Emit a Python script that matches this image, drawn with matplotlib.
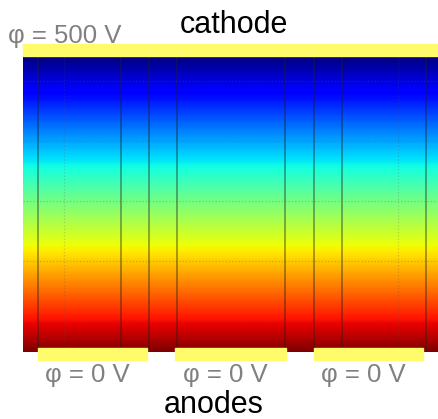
import numpy as np
import matplotlib.pyplot as plt
from matplotlib.patches import Rectangle

plt.rcParams['font.family'] = ['Liberation Sans', 'DejaVu Sans']

# geometry in mm
width, height = 50.0, 35.66
phi_cathode, phi_anode = 500, 0
anodes = [(1.8, 14.9), (18.3, 31.7), (35.1, 48.2)]
field_lines = [1.77, 11.77, 15.14, 18.55, 31.53, 35.02, 38.43, 48.52]
grid_x = [4.94, 45.18]
grid_y = [3.7, 11.0, 18.2, 25.4, 32.6]

fig = plt.figure(figsize=(4.38, 4.19), dpi=100)
ax = fig.add_axes([23 / 438, 67 / 419, 415 / 438, 296 / 419])

# potential between the plates
phi = np.linspace(phi_anode, phi_cathode, 300)[:, None]
ax.imshow(phi, origin='lower', cmap='jet_r', vmin=phi_anode, vmax=phi_cathode,
          extent=[0, width, 0, height], aspect='auto', interpolation='bilinear')

for x in field_lines:
    ax.axvline(x, color='#202020', lw=1.1, alpha=0.5)

for x in grid_x:
    ax.axvline(x, color='#555555', lw=0.9, ls=':', alpha=0.25)
for y in grid_y:
    ax.axhline(y, color='#555555', lw=0.9, ls=':', alpha=0.3)

ax.set_xlim(0, width)
ax.set_ylim(0, height)
ax.axis('off')

yellow = '#fffb6a'
ax.add_patch(Rectangle((0, height), width + 0.5, 1.45, color=yellow, clip_on=False, zorder=5))
for a, b in anodes:
    ax.add_patch(Rectangle((a, -0.96), b - a, 1.44, color=yellow, clip_on=False, zorder=5))
    ax.text((a + b) / 2 - 0.6, -3.61, f'φ = {phi_anode} V', color='#808080',
            fontsize=18.5, ha='center', va='baseline', clip_on=False)

ax.text(-1.81, 37.2, f'φ = {phi_cathode} V', color='#808080', fontsize=18.5,
        ha='left', va='baseline', clip_on=False)
ax.text(25.4, 38.43, 'cathode', color='black', fontsize=22, ha='center',
        va='baseline', clip_on=False)
ax.text(22.95, -7.3, 'anodes', color='black', fontsize=22, ha='center',
        va='baseline', clip_on=False)

fig.savefig('out.png', dpi=100)
